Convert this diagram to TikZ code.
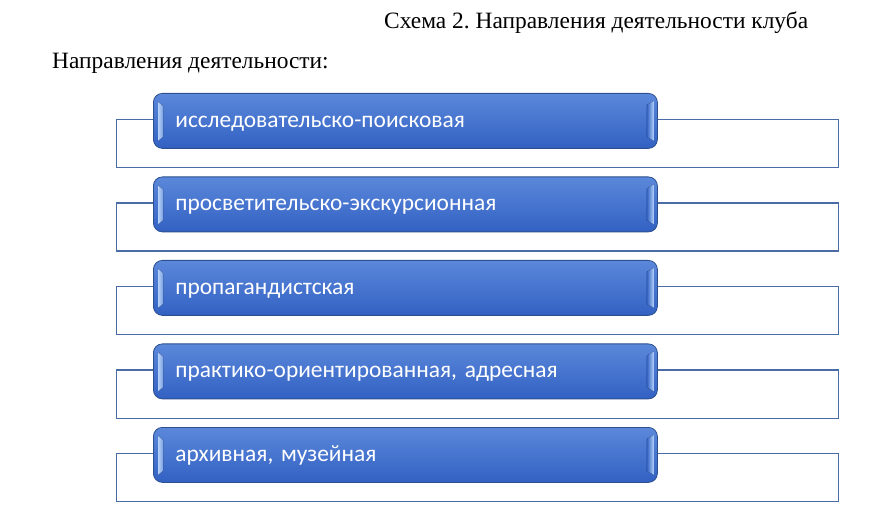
\documentclass[tikz,border=0pt]{standalone}
\usepackage{fontspec}
\setmainfont{Liberation Serif}
\newfontfamily\boxfont{Carlito}
\usetikzlibrary{calc}
\frenchspacing
\definecolor{framecol}{HTML}{4A6CA6}
\definecolor{boxborder}{HTML}{2C4F8E}
\definecolor{boxtop}{HTML}{5B88DA}
\definecolor{boxbot}{HTML}{3261C3}
\definecolor{hilite}{HTML}{B4D2FA}
\tikzset{
  outerbox/.style={draw=framecol, line width=1.3pt, fill=white, minimum width=722pt, minimum height=48pt, anchor=north west, inner sep=0pt},
  bluebox/.style={draw=boxborder, line width=0.8pt, rounded corners=9pt, top color=boxtop, bottom color=boxbot,
    minimum height=55pt, text width=460pt, inner xsep=22pt, inner ysep=0pt, align=left, anchor=north west,
    text height=16pt, text depth=3pt,
    text=white, font=\boxfont\fontsize{23.4}{26}\selectfont\frenchspacing},
  lefthl/.style={left color=hilite, right color=boxtop!80!white, draw=none},
  righthl/.style={left color=boxbot, right color=hilite, draw=none},
  heading/.style={font=\fontsize{23.4}{27}\selectfont\frenchspacing, anchor=base west, inner sep=0pt}
}
\begin{document}
\begin{tikzpicture}[x=1pt,y=-1pt]
\useasboundingbox (0,0) rectangle (870,510);
\node[heading] (title) at (384,29) {Схема 2. Направления деятельности клуба};
\node[heading] (sub) at (52,69) {Направления деятельности:};
\foreach \i/\t [count=\k] in {0/{исследовательско-поисковая},1/{просветительско-экскурсионная},2/{пропагандистская},3/{практико-ориентированная, адресная},4/{архивная, музейная}}{
  \pgfmathsetmacro{\yy}{93+83.5*\i}
  \node[outerbox] (o\k) at (116,\yy+26) {};
  \node[bluebox] (b\k) at (153,\yy) {\t};
  \fill[lefthl] ($(b\k.north west)+(5,9)$) -- ($(b\k.north west)+(10,13)$) -- ($(b\k.south west)+(10,-12)$) -- ($(b\k.south west)+(5,-8)$) -- cycle;
  \fill[righthl] ($(b\k.north east)+(-11,12)$) -- ($(b\k.north east)+(-4,8)$) -- ($(b\k.south east)+(-4,-8)$) -- ($(b\k.south east)+(-11,-12)$) -- cycle;
}
\end{tikzpicture}
\end{document}
